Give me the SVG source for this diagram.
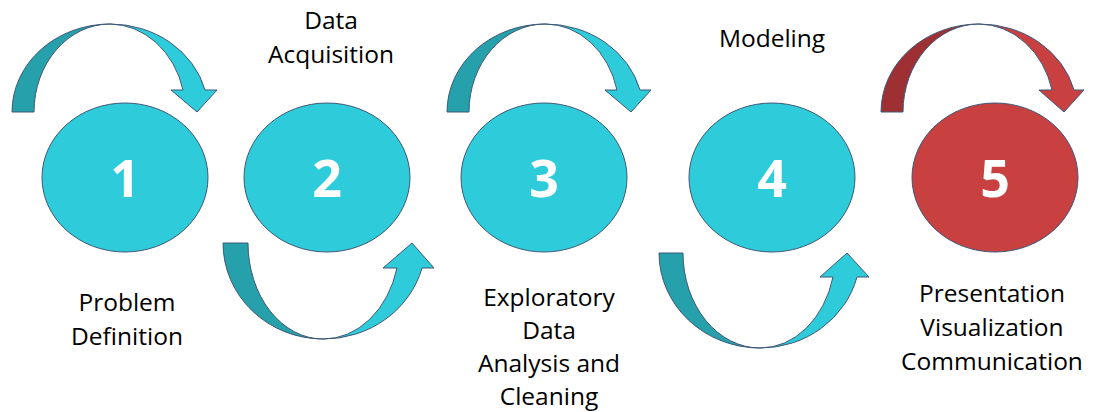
<svg xmlns="http://www.w3.org/2000/svg" width="1095" height="412" viewBox="0 0 1095 412">
<style>
  .node { fill: #2ECCDA; stroke: #3D5878; stroke-width: 1; }
  .node-red { fill: #C84040; stroke: #3D5878; stroke-width: 1; }
  .num { font-family: "Open Sans", "DejaVu Sans", sans-serif; font-weight: bold; font-size: 52px; fill: #FFFFFF; text-anchor: middle; }
  .label { font-family: "Open Sans", "DejaVu Sans", sans-serif; font-size: 24.5px; fill: #000000; text-anchor: middle; }
  .arr-dark { fill: #26A0AA; stroke: #3D5878; stroke-width: 1; stroke-linejoin: miter; }
  .arr-light { fill: #2ECCDA; stroke: #3D5878; stroke-width: 1; stroke-linejoin: miter; }
  .arr-dark-red { fill: #9E3033; stroke: #3D5878; stroke-width: 1; }
  .arr-light-red { fill: #C84040; stroke: #3D5878; stroke-width: 1; }
</style>
<rect width="1095" height="412" fill="#FFFFFF"/>

<g id="connectors">
  <!-- arrow 1 -> 2 (over) -->
  <g id="arrow-1-2">
    <path class="arr-dark" d="M 12 112 A 98 88 0 0 1 110 24 A 76 88 0 0 0 34 112 Z"/>
    <path class="arr-light" d="M 110 24 A 98 88 0 0 1 205 90 L 217 90 L 197 112 L 171 90 L 183 90 A 76 88 0 0 0 110 24 Z"/>
  </g>
  <!-- arrow 2 -> 3 (under) -->
  <g id="arrow-2-3">
    <path class="arr-dark" d="M 223 243 A 100 96 0 0 0 323 339 A 75 96 0 0 1 248 243 Z"/>
    <path class="arr-light" d="M 323 339 A 102 96 0 0 0 422 268 L 434 268 L 412 243 L 383 268 L 397 268 A 76 96 0 0 1 323 339 Z"/>
  </g>
  <!-- arrow 3 -> 4 (over) -->
  <g id="arrow-3-4">
    <path class="arr-dark" d="M 447 112 A 98 88 0 0 1 545 24 A 76 88 0 0 0 469 112 Z"/>
    <path class="arr-light" d="M 545 24 A 98 88 0 0 1 640 90 L 651 90 L 631 112 L 605 90 L 617 90 A 74 88 0 0 0 545 24 Z"/>
  </g>
  <!-- arrow 4 -> 5 (under) -->
  <g id="arrow-4-5">
    <path class="arr-dark" d="M 659 253 A 101 95 0 0 0 760 348 A 77 95 0 0 1 683 253 Z"/>
    <path class="arr-light" d="M 760 348 A 100 95 0 0 0 857 277 L 869 277 L 847 253 L 820 277 L 833 277 A 75 95 0 0 1 760 348 Z"/>
  </g>
  <!-- arrow into 5 (over, red) -->
  <g id="arrow-5">
    <path class="arr-dark-red" d="M 881 112 A 98 88 0 0 1 979 24 A 76 88 0 0 0 903 112 Z"/>
    <path class="arr-light-red" d="M 979 24 A 98 88 0 0 1 1074 90 L 1084 90 L 1064 112 L 1039 90 L 1052 90 A 76 88 0 0 0 979 24 Z"/>
  </g>
</g>

<g id="node-1">
  <ellipse class="node" cx="125" cy="177.5" rx="83" ry="74.5"/>
  <text class="num" x="125" y="197">1</text>
  <text class="label" x="127" y="311"><tspan x="127">Problem</tspan><tspan x="127" dy="34">Definition</tspan></text>
</g>

<g id="node-2">
  <ellipse class="node" cx="327" cy="177.5" rx="83" ry="74.5"/>
  <text class="num" x="327" y="197">2</text>
  <text class="label" x="331" y="29"><tspan x="331">Data</tspan><tspan x="331" dy="34">Acquisition</tspan></text>
</g>

<g id="node-3">
  <ellipse class="node" cx="544" cy="177.5" rx="83" ry="74.5"/>
  <text class="num" x="544" y="197">3</text>
  <text class="label" x="549" y="306"><tspan x="549">Exploratory</tspan><tspan x="549" dy="33">Data</tspan><tspan x="549" dy="33">Analysis and</tspan><tspan x="549" dy="33">Cleaning</tspan></text>
</g>

<g id="node-4">
  <ellipse class="node" cx="772" cy="177.5" rx="83" ry="74.5"/>
  <text class="num" x="772" y="197">4</text>
  <text class="label" x="772" y="47">Modeling</text>
</g>

<g id="node-5">
  <ellipse class="node-red" cx="995" cy="177.5" rx="83" ry="74.5"/>
  <text class="num" x="995" y="197">5</text>
  <text class="label" x="992" y="302"><tspan x="992">Presentation</tspan><tspan x="992" dy="34">Visualization</tspan><tspan x="992" dy="34">Communication</tspan></text>
</g>
</svg>
